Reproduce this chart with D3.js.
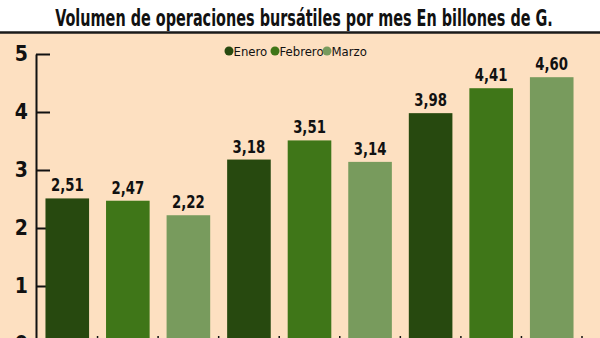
<!DOCTYPE html>
<html><head><meta charset="utf-8">
<script src="https://cdn.jsdelivr.net/npm/d3@7"></script>
<style>
html,body{margin:0;padding:0;background:#fff;}
svg{display:block;}
text{font-family:"DejaVu Sans Condensed","Liberation Sans Narrow",sans-serif;}
</style></head><body>
<svg id="chart" width="600" height="338"></svg>
<script>
const title = "Volumen de operaciones bursátiles por mes En billones de G.";
const months = ["Enero", "Febrero", "Marzo"];
const groups = ["Grupo 1", "Grupo 2", "Grupo 3"];
const enero = [2.51, 3.18, 3.98];
const febrero = [2.47, 3.51, 4.41];
const marzo = [2.22, 3.14, 4.60];
const yTicks = [0, 1, 2, 3, 4, 5];
const colors = ["#27490f", "#3f7618", "#789b5d"];

const series = [enero, febrero, marzo];
const bars = [];
groups.forEach((g, gi) => months.forEach((m, mi) => bars.push({group: g, month: m, mi, value: series[mi][gi], idx: gi * 3 + mi})));

const svg = d3.select("#chart");
svg.append("rect").attr("x", 0).attr("y", 33).attr("width", 600).attr("height", 305).attr("fill", "#fde0c1");
svg.append("line").attr("x1", 0).attr("x2", 600).attr("y1", 32.5).attr("y2", 32.5).attr("stroke", "#1a1a1a").attr("stroke-width", 2.5);

const tt = svg.append("text").attr("text-anchor", "middle")
  .attr("font-weight", "bold").attr("font-size", 23).attr("fill", "#111").text(title);
const natural = tt.node().getComputedTextLength();
const sx = 498 / natural;
tt.attr("transform", `translate(304,26) scale(${sx},1)`);

const x = d3.scaleBand().domain(d3.range(bars.length)).range([37, 582]).paddingInner(0.28).paddingOuter(0.14);
const y = d3.scaleLinear().domain([0, 5]).range([344, 54]);

// y axis
const yAxis = svg.append("g").attr("transform", "translate(36,0)")
  .call(d3.axisLeft(y).tickValues(yTicks).tickSizeInner(-14).tickSizeOuter(0).tickPadding(8).tickFormat(d3.format("d")));
yAxis.select(".domain").attr("stroke", "#111").attr("stroke-width", 2);
yAxis.selectAll(".tick line").attr("stroke", "#111").attr("stroke-width", 2);
yAxis.selectAll(".tick text").attr("font-size", 21).attr("font-weight", "bold").attr("fill", "#111")
  .style("font-family", '"DejaVu Sans Condensed",sans-serif');

// x axis ticks at band boundaries
const step = x.step();
const bounds = bars.map(b => x(b.idx) + x.bandwidth() + (step - x.bandwidth()) / 2);
svg.append("g").selectAll("line").data(bounds).join("line")
  .attr("x1", d => d).attr("x2", d => d).attr("y1", y(0)).attr("y2", y(0) - 8)
  .attr("stroke", "#111").attr("stroke-width", 1.5);

// bars
svg.append("g").selectAll("rect").data(bars).join("rect")
  .attr("x", d => x(d.idx)).attr("width", x.bandwidth())
  .attr("y", d => y(d.value)).attr("height", d => y(0) - y(d.value))
  .attr("fill", d => colors[d.mi]);

// value labels
const fmt = v => d3.format(".2f")(v).replace(".", ",");
svg.append("g").selectAll("text").data(bars).join("text")
  .attr("transform", d => `translate(${x(d.idx) + x.bandwidth() / 2},${y(d.value) - 7}) scale(0.82,1)`)
  .attr("text-anchor", "middle").attr("font-size", 18).attr("font-weight", "bold").attr("fill", "#111")
  .text(d => fmt(d.value));

// legend
const legX = [229, 275, 327];
const leg = svg.append("g").selectAll("g").data(months).join("g")
  .attr("transform", (d, i) => `translate(${legX[i]},51)`);
leg.append("circle").attr("r", 4.5).attr("fill", (d, i) => colors[i]);
leg.append("text").attr("x", 4.5).attr("y", 4.5).attr("font-size", 13).attr("fill", "#111").text(d => d);
</script>
</body></html>
